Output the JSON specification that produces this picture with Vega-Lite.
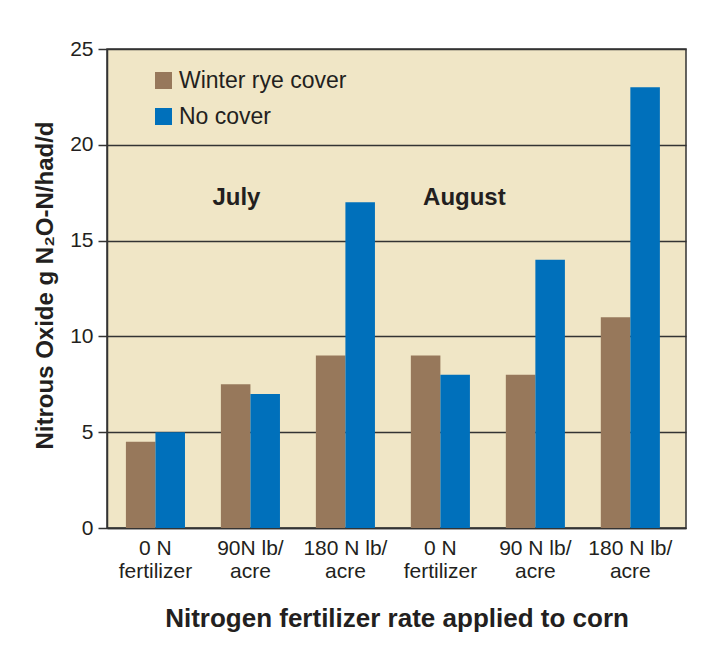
{
  "$schema": "https://vega.github.io/schema/vega-lite/v6.json",
  "autosize": "none",
  "width": 579,
  "height": 479,
  "padding": {"left": 107, "top": 49, "right": 24, "bottom": 126},
  "background": "white",
  "config": {
    "view": {"fill": "#f0e6c6", "stroke": "#333333", "strokeWidth": 1.5},
    "font": "Liberation Sans"
  },
  "datasets": {
    "bars": [
      {"cat": "J0|0 N|fertilizer", "cover": "Winter rye cover", "value": 4.5},
      {"cat": "J0|0 N|fertilizer", "cover": "No cover", "value": 5},
      {"cat": "J90|90N lb/|acre", "cover": "Winter rye cover", "value": 7.5},
      {"cat": "J90|90N lb/|acre", "cover": "No cover", "value": 7},
      {"cat": "J180|180 N lb/|acre", "cover": "Winter rye cover", "value": 9},
      {"cat": "J180|180 N lb/|acre", "cover": "No cover", "value": 17},
      {"cat": "A0|0 N|fertilizer", "cover": "Winter rye cover", "value": 9},
      {"cat": "A0|0 N|fertilizer", "cover": "No cover", "value": 8},
      {"cat": "A90|90 N lb/|acre", "cover": "Winter rye cover", "value": 8},
      {"cat": "A90|90 N lb/|acre", "cover": "No cover", "value": 14},
      {"cat": "A180|180 N lb/|acre", "cover": "Winter rye cover", "value": 11},
      {"cat": "A180|180 N lb/|acre", "cover": "No cover", "value": 23}
    ]
  },
  "layer": [
    {
      "data": {"name": "bars"},
      "mark": {"type": "bar"},
      "encoding": {
        "x": {
          "field": "cat",
          "type": "nominal",
          "sort": null,
          "scale": {"paddingInner": 0.378, "paddingOuter": 0.237, "align": 0.42},
          "axis": {
            "title": "Nitrogen fertilizer rate applied to corn",
            "titleFont": "Liberation Sans",
            "titleFontSize": 26,
            "titleFontWeight": "bold",
            "titleColor": "#231f20",
            "titleBaseline": "middle",
            "titleY": 90,
            "labelExpr": "slice(split(datum.label, '|'), 1)",
            "labelAngle": 0,
            "labelFont": "Liberation Sans",
            "labelFontSize": 21,
            "labelColor": "#231f20",
            "labelLineHeight": 23,
            "labelPadding": 9,
            "labelBaseline": "top",
            "labelLimit": 200,
            "ticks": false,
            "domainColor": "#333333",
            "domainWidth": 1.5,
            "grid": false
          }
        },
        "xOffset": {
          "field": "cover",
          "type": "nominal",
          "sort": ["Winter rye cover", "No cover"],
          "scale": {"paddingInner": 0, "paddingOuter": 0}
        },
        "y": {
          "field": "value",
          "type": "quantitative",
          "scale": {"domain": [0, 25], "nice": false},
          "axis": {
            "values": [0, 5, 10, 15, 20, 25],
            "title": "Nitrous Oxide g N₂O-N/had/d",
            "titleFont": "Liberation Sans",
            "titleFontSize": 24,
            "titleFontWeight": "bold",
            "titleColor": "#231f20",
            "titleBaseline": "middle",
            "titleX": -62,
            "titleY": 236,
            "labelFont": "Liberation Sans",
            "labelFontSize": 21,
            "labelColor": "#231f20",
            "labelPadding": 5,
            "tickSize": 9,
            "tickColor": "#333333",
            "tickWidth": 1.5,
            "domainColor": "#333333",
            "domainWidth": 1.5,
            "grid": true,
            "gridColor": "#333333",
            "gridWidth": 1.5,
            "gridOpacity": 1
          }
        },
        "color": {
          "field": "cover",
          "type": "nominal",
          "scale": {"domain": ["Winter rye cover", "No cover"], "range": ["#97785b", "#0070bb"]},
          "legend": {
            "title": null,
            "orient": "none",
            "legendX": 45,
            "legendY": 20,
            "symbolType": "square",
            "symbolSize": 289,
            "symbolOpacity": 1,
            "symbolStrokeWidth": 0,
            "labelFont": "Liberation Sans",
            "labelFontSize": 23,
            "labelColor": "#231f20",
            "labelOffset": 4,
            "labelLimit": 400,
            "rowPadding": 12
          }
        }
      }
    },
    {
      "data": {"values": [{"cat": "J90|90N lb/|acre", "value": 17.2, "label": "July"}]},
      "mark": {"type": "text", "dx": -14, "font": "Liberation Sans", "fontSize": 24, "fontWeight": "bold", "color": "#231f20", "baseline": "middle"},
      "encoding": {
        "x": {"field": "cat", "type": "nominal", "sort": null},
        "y": {"field": "value", "type": "quantitative"},
        "text": {"field": "label"}
      }
    },
    {
      "data": {"values": [{"cat": "A0|0 N|fertilizer", "value": 17.2, "label": "August"}]},
      "mark": {"type": "text", "dx": 24, "font": "Liberation Sans", "fontSize": 24, "fontWeight": "bold", "color": "#231f20", "baseline": "middle"},
      "encoding": {
        "x": {"field": "cat", "type": "nominal", "sort": null},
        "y": {"field": "value", "type": "quantitative"},
        "text": {"field": "label"}
      }
    }
  ]
}
